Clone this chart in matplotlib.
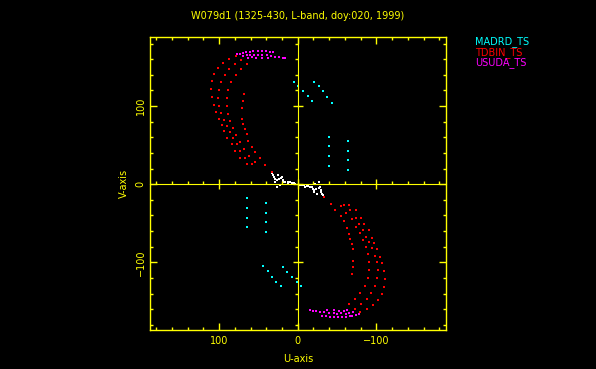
import numpy as np
import matplotlib
matplotlib.use("Agg")
import matplotlib.pyplot as plt

# uv points (one half only, conjugate points are added when plotting)
madrd_u = [4.7, -0.4, -6.8, -13.1, -18.2,
           -20.8, -27.1, -32.2, -37.3, -43.7,
           -39.9, -39.9, -39.9, -39.9,
           -64.1, -64.1, -64.1, -64.1]
madrd_v = [130.8, 125.7, 119.3, 112.9, 106.5,
           130.8, 125.7, 119.3, 111.6, 104.0,
           60.5, 48.9, 36.2, 23.4,
           55.1, 42.6, 30.7, 18.0]

tdbin_u = [78.6, 87.5, 95.2, 101.5, 106.6, 109.2, 110.4, 109.2, 106.6, 104.1,
           100.3, 96.4, 93.9, 90.1, 83.7, 79.9, 73.5, 64.6,
           72.2, 79.9, 87.5, 92.6, 97.7, 100.3, 101.5, 100.3, 97.7, 93.9,
           90.1, 86.2, 82.4, 77.3, 73.5, 67.1, 58.2,
           64.6, 72.2, 78.6, 85.0, 88.8, 90.1, 90.1, 88.8, 86.2, 82.4,
           78.6, 73.5, 68.4, 62.0, 54.4,
           68.4, 69.7, 70.6, 70.6, 69.3, 67.1, 65.0, 62.9, 58.6, 54.4,
           48.0, 41.7, 33.1]
tdbin_v = [164.1, 160.2, 155.1, 148.7, 141.0, 132.1, 121.9, 111.6, 101.4, 92.5,
           83.5, 75.8, 68.2, 59.2, 51.5, 42.6, 33.6, 26.0,
           159.0, 153.8, 147.4, 139.7, 130.8, 120.6, 110.3, 100.1, 91.2, 82.2,
           74.5, 66.9, 59.2, 51.5, 42.6, 33.6, 26.0,
           153.8, 147.4, 139.7, 130.8, 120.6, 110.3, 100.1, 89.9, 80.9, 72.0,
           63.0, 54.1, 45.1, 36.2, 28.5,
           115.5, 106.5, 97.6, 83.5, 77.1, 70.7, 64.3, 55.4, 47.7, 41.3,
           33.6, 24.7, 16.1]

usuda_u = [77.7, 73.5, 69.3, 65.9, 60.8, 56.6, 51.0, 45.9, 40.4, 35.3, 31.1,
           70.1, 65.0, 60.8, 55.3, 50.2, 45.9, 39.5, 34.0, 28.9, 23.8, 19.1, 16.2,
           62.9, 58.6, 53.1, 45.5, 37.8]
usuda_v = [166.2, 167.0, 168.3, 169.2, 169.6, 170.1, 170.5, 170.5, 170.1, 169.2, 168.8,
           163.7, 165.0, 165.7, 165.0, 165.7, 165.0, 165.0, 163.7, 163.2, 162.4, 161.9, 161.5,
           161.5, 162.8, 162.1, 161.5, 161.5]

other_u = [32.4, 30.2, 28.9, 24.7, 23.4, 22.5, 20.4, 19.1, 18.3, 26.8,
           9.8, 7.6, 3.4, 13.0, 31.0, 29.0, 27.0, 21.0, 16.0, 12.0, 5.0]
other_v = [14.1, 9.7, 3.3, 11.9, 6.4, -0.9, 9.7, 5.5, 3.3, -3.1,
           3.3, 1.3, 0.4, 2.0, 12.0, 7.0, 5.0, 8.0, 3.0, 2.5, 1.0]

stations = ['MADRD_TS', 'TDBIN_TS', 'USUDA_TS']
station_colors = ['#00ffff', '#ff0000', '#ff00ff']
yellow = '#ffff00'

fig = plt.figure(figsize=(5.96, 3.69), dpi=100, facecolor='black')
ax = fig.add_axes([0.2517, 0.1057, 0.4958, 0.7927])
ax.set_facecolor('black')

def both(u, v):
    u = np.array(u)
    v = np.array(v)
    return np.concatenate([u, -u]), np.concatenate([v, -v])

for (u, v), c in [(both(other_u, other_v), 'white'),
                  (both(madrd_u, madrd_v), station_colors[0]),
                  (both(tdbin_u, tdbin_v), station_colors[1]),
                  (both(usuda_u, usuda_v), station_colors[2])]:
    ax.plot(u, v, 's', color=c, markersize=2.0, markeredgewidth=0, linestyle='none')

ax.set_xlim(188, -188)
ax.set_ylim(-186.5, 187.7)

for s in ax.spines.values():
    s.set_color(yellow)
    s.set_linewidth(1)

ax.set_xticks([100, 0, -100])
ax.set_yticks([-100, 0, 100])
ax.set_xticks(np.arange(-180, 181, 20), minor=True)
ax.set_yticks(np.arange(-180, 181, 20), minor=True)
ax.tick_params(which='both', direction='in', colors=yellow, top=True, right=True,
               labelsize=7, labelcolor=yellow)
ax.tick_params(which='major', length=5, width=1)
ax.tick_params(which='minor', length=2.5, width=1)
ax.tick_params(axis='x', pad=4)
ax.tick_params(axis='y', pad=3)
for lab in ax.get_yticklabels():
    lab.set_rotation(90)
    lab.set_va('center')

# axes through the origin
ax0 = fig.add_axes(ax.get_position(), sharex=ax, sharey=ax)
ax0.patch.set_visible(False)
ax0.spines['top'].set_visible(False)
ax0.spines['right'].set_visible(False)
ax0.spines['left'].set_position(('data', 0))
ax0.spines['bottom'].set_position(('data', 0))
ax0.spines['left'].set_color(yellow)
ax0.spines['bottom'].set_color(yellow)
ax0.tick_params(which='both', colors=yellow, labelbottom=False, labelleft=False, width=1)
ax0.tick_params(axis='x', which='minor', direction='in', length=2.5)
ax0.tick_params(axis='y', which='minor', direction='out', length=2.5)
ax0.tick_params(which='major', direction='inout', length=7)

ax.set_xlabel('U-axis', color=yellow, fontsize=7, labelpad=6)
ax.set_ylabel('V-axis', color=yellow, fontsize=7, labelpad=5)

fig.text(0.5, 1 - 16 / 369, 'W079d1 (1325-430, L-band, doy:020, 1999)', color=yellow,
         fontsize=7, ha='center', va='center')
for i in range(3):
    fig.text(475 / 596, 1 - (42 + 10.5 * i) / 369, stations[i], color=station_colors[i],
             fontsize=7, ha='left', va='center')

plt.savefig('out.png', dpi=100, facecolor='black')
